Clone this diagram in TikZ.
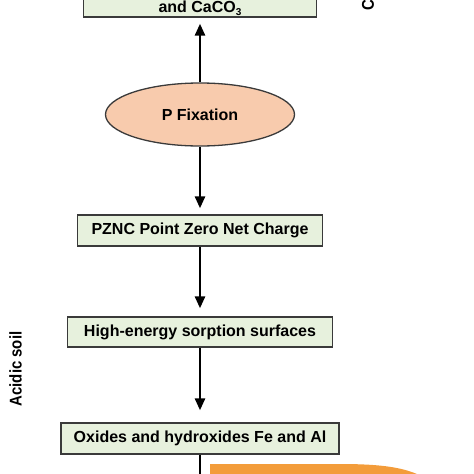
\documentclass[tikz,border=0pt]{standalone}
\usepackage{fontspec}
\setmainfont{Liberation Sans}
\usetikzlibrary{arrows.meta,shapes.geometric}
\definecolor{boxfill}{HTML}{E7F1DD}
\definecolor{boxline}{HTML}{3A3A3A}
\definecolor{peach}{HTML}{F8CBAD}
\definecolor{orangeband}{HTML}{F39C3A}
\tikzset{
  stepbox/.style={draw=boxline, line width=1.3pt, fill=boxfill, rectangle, inner sep=0pt,
    font=\fontsize{16}{18}\selectfont\bfseries, minimum height=31pt},
  fixoval/.style={draw=boxline, line width=1.3pt, fill=peach, ellipse, inner sep=0pt,
    minimum width=189pt, minimum height=63pt, font=\fontsize{16}{18}\selectfont\bfseries},
  flow/.style={line width=2.6pt, -{Triangle[width=10pt,length=12pt]}},
  sidelabel/.style={rotate=90, font=\fontsize{17}{19}\selectfont\bfseries, inner sep=0pt}
}
\begin{document}
\begin{tikzpicture}[x=1pt,y=-1pt]
\useasboundingbox (0,0) rectangle (474,474);
\clip (0,0) rectangle (474,474);
% orange band at bottom right
\fill[orangeband] (210,464) -- (340,464) .. controls (385,464) and (410,468) .. (428,480) -- (210,480) -- cycle;
% top box (partly off the page)
\node[stepbox, anchor=base, text height=42pt, text depth=5pt, minimum height=0pt, minimum width=233pt] (top) at (200,12)
  {and CaCO{\fontsize{10}{10}\selectfont\raisebox{-3pt}{3}}};
\node[fixoval] (fix) at (200,114.5) {P Fixation};
\node[stepbox, minimum width=245pt] (pznc) at (200,230.5) {PZNC Point Zero Net Charge};
\node[stepbox, minimum width=265pt, minimum height=30pt] (high) at (200,332) {High-energy sorption surfaces};
\node[stepbox, minimum width=278pt] (oxi) at (200,438.5) {Oxides and hydroxides Fe and Al};
\coordinate (bottomend) at (200,480);
% connectors
\draw[flow, shorten >=6pt] (fix) -- (top);
\draw[flow, shorten >=6pt] (fix) -- (pznc);
\draw[flow, shorten >=8pt] (pznc) -- (high);
\draw[flow, shorten >=12pt] (high) -- (oxi);
\draw[line width=2.6pt] (oxi) -- (bottomend);
% side labels
\node[sidelabel] (acid) at (15.5,369) {\scalebox{0.88}[1]{Acidic soil}};
\node[sidelabel, anchor=west] (calc) at (368,11) {\scalebox{0.88}[1]{C}};
\end{tikzpicture}
\end{document}
